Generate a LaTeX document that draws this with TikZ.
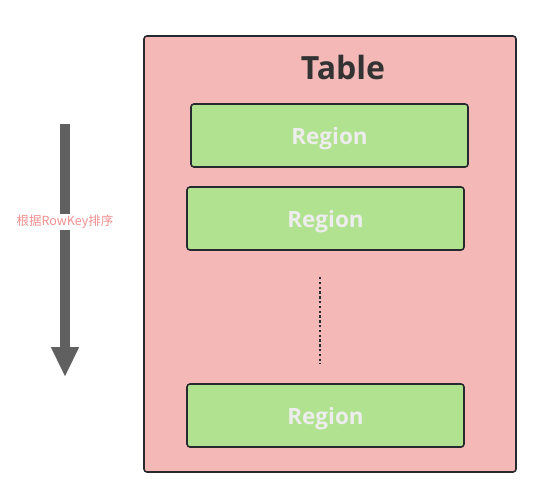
\documentclass[tikz,border=0pt]{standalone}
\usepackage{fontspec}
\setmainfont{Open Sans}
\newfontfamily\cjkfont{Noto Sans CJK SC}
\usetikzlibrary{arrows.meta}
\usetikzlibrary{positioning}
\definecolor{tablefill}{HTML}{F4B8B6}
\definecolor{regionfill}{HTML}{B1E28F}
\definecolor{edgecol}{HTML}{262A2E}
\definecolor{arrowcol}{HTML}{606060}
\definecolor{labelcol}{HTML}{F29090}
\tikzset{tablebox/.style = {draw = edgecol, fill = tablefill, line width = 1.6, rounded corners = 3}}
\tikzset{region/.style = {draw = edgecol, fill = regionfill, line width = 1.6, rounded corners = 3,
    minimum width = 277, minimum height = 63, inner sep = 0, text depth = 0pt,
    font = \fontsize{22.5}{24}\selectfont\bfseries, text = white!93!black}}

\begin{document}
\begin{tikzpicture}[x = 1pt, y = -1pt]
    \useasboundingbox (0, 0) rectangle (540, 498);

    \draw [tablebox] (144, 36) rectangle (516, 472);
    \node [font = \fontsize{32}{34}\selectfont\bfseries, text = black!80] (title) at (343, 67) {Table};

    \node [region] (r1) at (329.5, 135.5) {Region};
    \node [region] (r2) at (325.5, 218.5) {Region};
    \node [region] (r3) at (325.5, 415.5) {Region};

    \coordinate (dtop) at (320, 277);
    \coordinate (dbot) at (320, 364);
    \draw [edgecol, line width = 1.6, dash pattern = on 2.4 off 2.4] (dtop) -- (dbot);

    \coordinate (atop) at (65, 124);
    \coordinate (abot) at (65, 377);
    \draw [arrowcol, line width = 10, -{Triangle[width = 26, length = 30]}] (atop) -- (abot);
    \node [fill = white, inner sep = 1, text = labelcol, font = \cjkfont\fontsize{12.5}{14}\selectfont] (sortlabel) at (65, 222) {根据RowKey排序};
  \end{tikzpicture}
\end{document}
